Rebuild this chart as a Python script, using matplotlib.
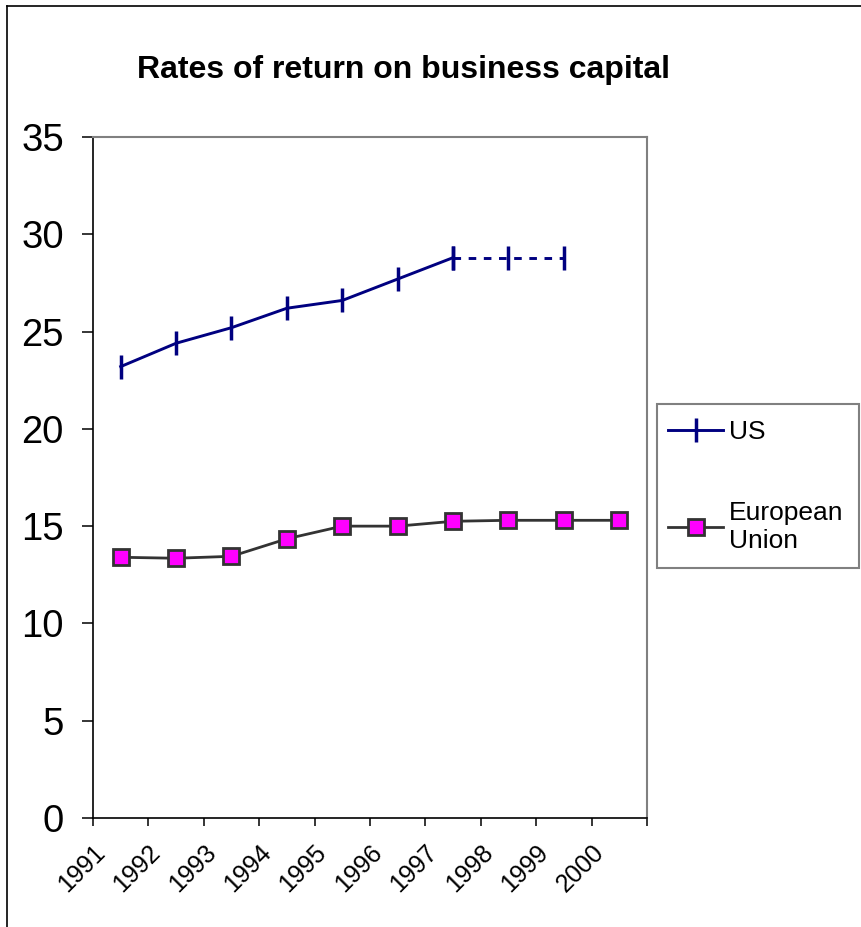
import matplotlib
matplotlib.use('Agg')
import matplotlib.pyplot as plt
import matplotlib.transforms as mtransforms
from matplotlib.lines import Line2D
from matplotlib.patches import Rectangle
import numpy as np

plt.rcParams['font.family'] = ['Liberation Sans', 'DejaVu Sans']

# Data
years = ['1991', '1992', '1993', '1994', '1995', '1996', '1997', '1998', '1999', '2000']
us_values = [23.2, 24.4, 25.2, 26.2, 26.6, 27.7, 28.8, 28.8, 28.8]
eu_values = [13.4, 13.35, 13.45, 14.35, 15.0, 15.0, 15.25, 15.3, 15.3, 15.3]
us_solid_until = 7  # 1991-1997 actual, then projection (dashed)

navy = '#000080'
magenta = '#FF00FF'
dark = '#333333'
grey = '#808080'

W, H = 862, 927
fig = plt.figure(figsize=(W / 100, H / 100), dpi=100)
ax = fig.add_axes([93 / W, 1 - 818 / H, (647 - 93) / W, (818 - 137) / H])

x = np.arange(len(years))
x_us = x[:len(us_values)]

us_style = dict(color=navy, lw=2.1, marker='|', ms=17, mew=2.5)
eu_style = dict(color=dark, lw=2.0, marker='s', ms=11.5,
                markerfacecolor=magenta, markeredgecolor=dark, mew=2.0)

# US: solid actual part, dashed projection
ax.plot(x_us[:us_solid_until], us_values[:us_solid_until], **us_style)
ax.plot(x_us[us_solid_until - 1:], us_values[us_solid_until - 1:],
        linestyle=(0, (2.6, 2.6)), **us_style)

# European Union
ax.plot(x, eu_values, **eu_style)

ax.set_xlim(-0.5, len(years) - 0.5)
ax.set_ylim(0, 35)
ax.set_yticks(np.arange(0, 36, 5))

# category boundaries get the tick marks, labels sit at category centres
ax.set_xticks(np.arange(-0.5, len(years), 1.0))
ax.set_xticklabels([])
ax.set_xticks(x, minor=True)
ax.set_xticklabels(years, minor=True, rotation=45, ha='right', va='top',
                   fontsize=18)
ax.tick_params(axis='x', which='major', length=6, width=1.1, direction='out')
ax.tick_params(axis='x', which='minor', length=0, pad=16)
offset = mtransforms.ScaledTranslation(-11 / 100, 0, fig.dpi_scale_trans)
for lbl in ax.get_xticklabels(minor=True):
    lbl.set_transform(lbl.get_transform() + offset)

ax.tick_params(axis='y', length=8, width=1.1, direction='out', pad=13,
               labelsize=27.5)

for side in ['left', 'bottom']:
    ax.spines[side].set_color('black')
    ax.spines[side].set_linewidth(1.2)
for side in ['top', 'right']:
    ax.spines[side].set_color(grey)
    ax.spines[side].set_linewidth(1.5)

fig.text(404 / W, 1 - 70 / H, 'Rates of return on business capital',
         ha='center', va='center', fontsize=23, fontweight='bold')

# legend: entries without frame, box drawn separately (Excel-like padding)
handles = [Line2D([], [], **us_style), Line2D([], [], **eu_style)]
leg = fig.legend(handles, ['US', 'European\nUnion'], loc='upper left',
                 bbox_to_anchor=(668 / W, 1 - 420 / H), fontsize=19,
                 frameon=False, handlelength=2.1, handletextpad=0.22,
                 labelspacing=2.15, borderpad=0, borderaxespad=0, numpoints=1)
fig.add_artist(Rectangle((657 / W, 1 - 568 / H), (859 - 657) / W,
                         (568 - 404) / H, transform=fig.transFigure,
                         facecolor='none', edgecolor=grey, lw=1.5))

# outer chart-area border (right and bottom edges fall outside the picture)
fig.add_artist(Line2D([7 / W, 7 / W], [0, 1 - 6 / H], color='black', lw=1.2,
                      transform=fig.transFigure))
fig.add_artist(Line2D([7 / W, 1], [1 - 6 / H, 1 - 6 / H], color='black',
                      lw=1.2, transform=fig.transFigure))

fig.savefig('out.png', dpi=100)
